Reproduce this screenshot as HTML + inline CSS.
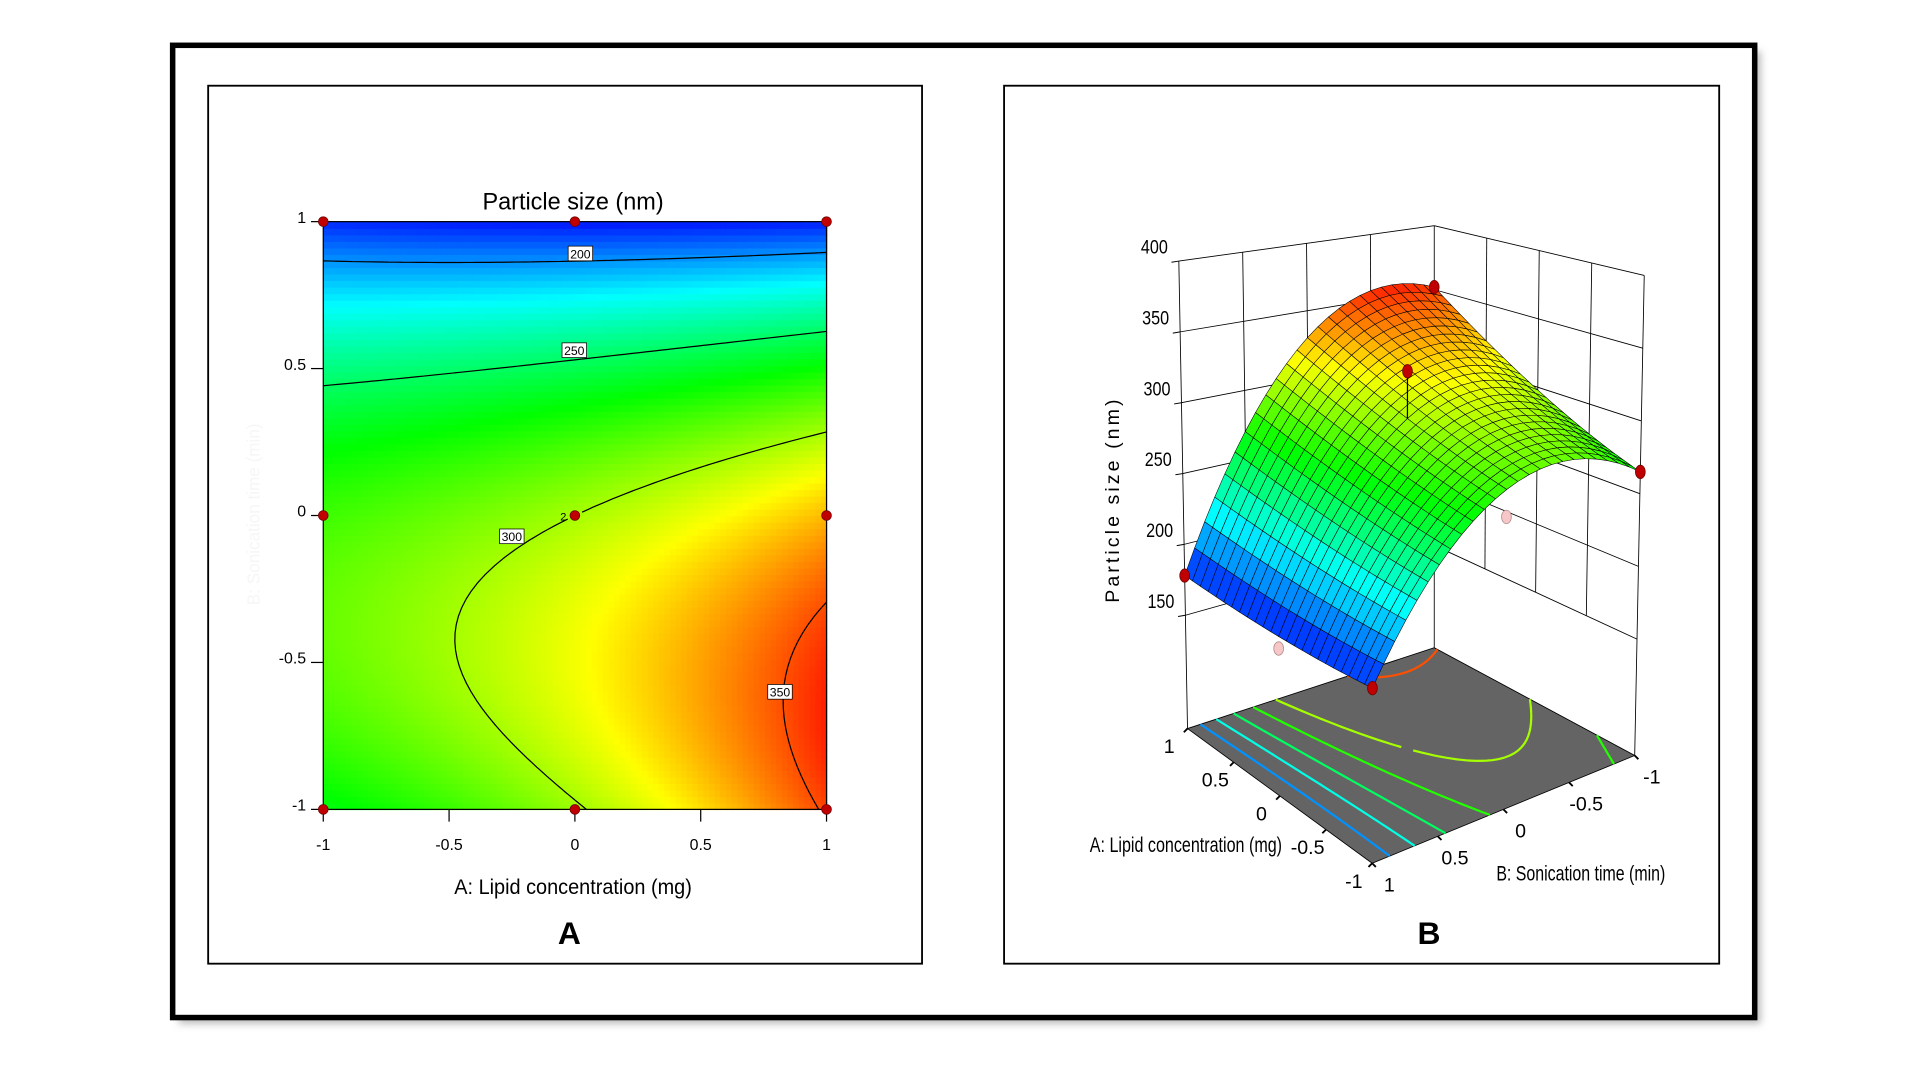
<!DOCTYPE html>
<html><head><meta charset="utf-8"><title>Particle size response surface</title>
<style>
html,body{margin:0;padding:0;background:#fff;}
svg{display:block;}
text{font-family:"Liberation Sans",sans-serif;}
</style></head>
<body>
<svg id="root" width="1920" height="1080" viewBox="0 0 1568 882" preserveAspectRatio="none" xmlns="http://www.w3.org/2000/svg">
<defs>
<filter id="sh" x="-5%" y="-5%" width="110%" height="110%"><feGaussianBlur stdDeviation="3"/></filter>
</defs>
<rect x="0" y="0" width="1568" height="882" fill="#fff"/>
<rect x="146" y="42" width="1292" height="794" fill="#bbb" filter="url(#sh)"/>
<rect x="141" y="37" width="1292" height="794" fill="#fff" stroke="#000" stroke-width="4.5"/>
<rect x="170" y="70" width="583" height="717" fill="#fff" stroke="#000" stroke-width="1.5"/>
<rect x="820" y="70" width="584" height="717" fill="#fff" stroke="#000" stroke-width="1.5"/>

<g id="pa">
<text x="468" y="171" font-size="20" text-anchor="middle" textLength="148" lengthAdjust="spacingAndGlyphs">Particle size (nm)</text>
<g id="heat"></g>
<g id="cont2d"></g>
<rect x="264" y="181" width="411" height="480" fill="none" stroke="#000" stroke-width="1"/>
<g id="ax2d"></g>
<g id="lbl2d"></g>
<g id="dots2d"></g>
<text x="468" y="730" font-size="17" text-anchor="middle" textLength="194" lengthAdjust="spacingAndGlyphs">A: Lipid concentration (mg)</text>
<text x="212" y="420" font-size="14" fill="#f6f6f6" text-anchor="middle" transform="rotate(-90 212 420)">B: Sonication time (min)</text>
<text x="465" y="771" font-size="26" font-weight="bold" text-anchor="middle">A</text>
</g>

<g id="pb">
<g id="walls"></g>
<g id="floor"></g>
<g id="surf"></g>
<g id="ax3d"></g>
<text x="914" y="408" font-size="16" letter-spacing="2.5" text-anchor="middle" transform="rotate(-90 914 408)">Particle size (nm)</text>
<text x="890" y="696" font-size="17" textLength="157" lengthAdjust="spacingAndGlyphs">A: Lipid concentration (mg)</text>
<text x="1222" y="719" font-size="17" textLength="138" lengthAdjust="spacingAndGlyphs">B: Sonication time (min)</text>
<text x="1167" y="771" font-size="26" font-weight="bold" text-anchor="middle">B</text>
</g>
</svg>
<script>
// ---- data ----
const levelsA = [-1, 0, 1];
const levelsB = [1, 0, -1];
// predicted response at design grid: rows B=1,0,-1 ; cols A=-1,0,1
const predB1 = [180, 176, 178];
const predB0 = [280, 300, 330];
const predBm1 = [265, 298, 352];
// observed values for design points (rows as above)
const obsB1 = [180, 168, 178];
const obsB0 = [262, 333, 318];
const obsBm1 = [265, 298, 352];
const contourLevels = [200, 250, 300, 350];
const floorLevels = [200, 225, 250, 275, 300, 350];
const tickVals = [-1, -0.5, 0, 0.5, 1];
const tickLabels = ["-1", "-0.5", "0", "0.5", "1"];
const zTicks = [150, 200, 250, 300, 350, 400];
const cmin = 172, cmax = 365;

const NS = "http://www.w3.org/2000/svg";
function mk(tag, attrs, parent){ const e=document.createElementNS(NS,tag); for(const k in attrs) e.setAttribute(k,attrs[k]); parent.appendChild(e); return e; }
const pred = [predB1, predB0, predBm1];
const obs = [obsB1, obsB0, obsBm1];
function L3(x,i){ if(i===0) return x*(x-1)/2; if(i===1) return 1-x*x; return x*(x+1)/2; }
function f(A,B){
  let s=0;
  for(let r=0;r<3;r++){ const bi=2-r; for(let c=0;c<3;c++){ s+=pred[r][c]*L3(A,c)*L3(B,bi);} }
  return s;
}
function cmap(v){
  let t=(v-cmin)/(cmax-cmin); t=Math.max(0,Math.min(1,t));
  let r,g,b;
  if(t<0.25){r=0;g=t/0.25*255;b=255;}
  else if(t<0.5){r=0;g=255;b=255*(1-(t-0.25)/0.25);}
  else if(t<0.75){r=255*(t-0.5)/0.25;g=255;b=0;}
  else {r=255;g=255*(1-(t-0.75)/0.25);b=0;}
  return `rgb(${r|0},${g|0},${b|0})`;
}
function contourSegs(level,n){
  const segs=[]; const h=2/n;
  for(let i=0;i<n;i++)for(let j=0;j<n;j++){
    const a0=-1+i*h,a1=a0+h,b0=-1+j*h,b1=b0+h;
    const c=[[a0,b0,f(a0,b0)],[a1,b0,f(a1,b0)],[a1,b1,f(a1,b1)],[a0,b1,f(a0,b1)]];
    const pts=[];
    for(let k=0;k<4;k++){const p=c[k],q=c[(k+1)%4];
      if((p[2]-level)*(q[2]-level)<0){const u=(level-p[2])/(q[2]-p[2]); pts.push([p[0]+u*(q[0]-p[0]),p[1]+u*(q[1]-p[1])]);}}
    if(pts.length===2) segs.push(pts);
    if(pts.length===4){segs.push([pts[0],pts[1]]);segs.push([pts[2],pts[3]]);}
  }
  return segs;
}

// ---- panel A ----
const X0=264,X1=675,Y0=661,Y1=181;
const sx=a=>X0+(a+1)/2*(X1-X0);
const sy=b=>Y0-(b+1)/2*(Y0-Y1);
const heat=document.getElementById('heat');
const N=90, cw=(X1-X0)/N, ch=(Y0-Y1)/N;
for(let i=0;i<N;i++)for(let j=0;j<N;j++){
  const A=-1+(i+0.5)*2/N, B=-1+(j+0.5)*2/N;
  const r=mk('rect',{x:(sx(-1)+i*cw).toFixed(2),y:(sy(1)+(N-1-j)*ch).toFixed(2),width:(cw+0.6).toFixed(2),height:(ch+0.6).toFixed(2),fill:cmap(f(A,B))},heat);
  
  
}
const c2=document.getElementById('cont2d');
contourLevels.forEach(lv=>{
  let d=''; contourSegs(lv,70).forEach(s=>{d+=`M${sx(s[0][0]).toFixed(2)},${sy(s[0][1]).toFixed(2)}L${sx(s[1][0]).toFixed(2)},${sy(s[1][1]).toFixed(2)}`;});
  const p=mk('path',{d:d,stroke:'#000','stroke-width':1,fill:'none'},c2);
  
  
});
const ax=document.getElementById('ax2d');
tickVals.forEach((v,k)=>{
  const tx=mk('line',{x1:sx(v),x2:sx(v),y1:Y0,y2:Y0+10,stroke:'#000','stroke-width':1},ax);
  
  
  const tl=mk('text',{x:sx(v),y:Y0+33,'font-size':13,'text-anchor':'middle'},ax); tl.textContent=tickLabels[k];
  
  
  const ty=mk('line',{x1:X0-10,x2:X0,y1:sy(v),y2:sy(v),stroke:'#000','stroke-width':1},ax);
  
  
  const yl=mk('text',{x:X0-14,y:sy(v)+1,'font-size':13,'text-anchor':'end'},ax); yl.textContent=tickLabels[k];
  
  
});
const lbls=[[474,207,'200'],[469,286,'250'],[418,438,'300'],[637,565,'350']];
const lg=document.getElementById('lbl2d');
lbls.forEach(l=>{
  const r=mk('rect',{x:l[0]-10,y:l[1]-6,width:20,height:12,fill:'#fff',stroke:'#000','stroke-width':0.6},lg);
  
  
  const t=mk('text',{x:l[0],y:l[1]+4,'font-size':10,'text-anchor':'middle'},lg); t.textContent=l[2];
  
  
});
const rep=mk('text',{x:460,y:425,'font-size':9,'text-anchor':'middle'},lg); rep.textContent='2';


const dg=document.getElementById('dots2d');
levelsA.forEach(a=>levelsB.forEach(b=>{
  const c=mk('circle',{cx:sx(a),cy:sy(b),r:4,fill:'#c00000',stroke:'#600','stroke-width':0.6},dg);
  
  
}));

// ---- panel B (3D) ----
const Z0=70;
const CL=[969.8,595,1.157,-0.0215], CF=[1120.6,705,1.30,0.002], CK=[1171.3,529,1.0446,0], CR=[1335,617,1.188,0.0236];
function proj(A,B,z){
  const s=(1-A)/2,t=(1-B)/2;
  const w=[(1-s)*(1-t),s*(1-t),(1-s)*t,s*t], C=[CL,CF,CK,CR];
  let px=0,py=0,sc=0,dx=0; for(let k=0;k<4;k++){px+=w[k]*C[k][0];py+=w[k]*C[k][1];sc+=w[k]*C[k][2];dx+=w[k]*C[k][3];}
  const h=z-Z0; return [px+h*dx,py-h*sc];
}
const P=p=>p[0].toFixed(2)+','+p[1].toFixed(2);
const walls=document.getElementById('walls');
function wl(p,q,name){const l=mk('line',{x1:p[0],y1:p[1],x2:q[0],y2:q[1],stroke:'#000','stroke-width':0.7},walls);
  
  }
zTicks.forEach(z=>{ wl(proj(1,1,z),proj(1,-1,z),'wall-gridline'); wl(proj(1,-1,z),proj(-1,-1,z),'wall-gridline'); });
[0.5,0,-0.5].forEach(v=>{ wl(proj(1,v,150),proj(1,v,400),'wall-gridline'); wl(proj(v,-1,150),proj(v,-1,400),'wall-gridline'); });
wl(proj(1,1,Z0),proj(1,1,400),'z-axis-line'); wl(proj(1,-1,Z0),proj(1,-1,400),'corner-line'); wl(proj(-1,-1,Z0),proj(-1,-1,400),'corner-line');
const fl=document.getElementById('floor');
const fp=mk('polygon',{points:[proj(1,1,Z0),proj(-1,1,Z0),proj(-1,-1,Z0),proj(1,-1,Z0)].map(P).join(' '),fill:'#646464',stroke:'#000','stroke-width':0.7},fl);


floorLevels.forEach(lv=>{
  let d=''; contourSegs(lv,50).forEach(s=>{d+='M'+P(proj(s[0][0],s[0][1],Z0))+'L'+P(proj(s[1][0],s[1][1],Z0));});
  const p=mk('path',{d:d,stroke:cmap(lv),'stroke-width':1.8,fill:'none'},fl);
  
  
});
const sg=document.getElementById('surf');
const M=24, quads=[];
for(let i=0;i<M;i++)for(let j=0;j<M;j++){
  const a0=-1+i*2/M,a1=a0+2/M,b0=-1+j*2/M,b1=b0+2/M;
  const am=(a0+a1)/2,bm=(b0+b1)/2;
  quads.push({a0,a1,b0,b1,depth:(am-bm),z:f(am,bm)});
}
function dot(a,b,v,fill,g){const p=proj(a,b,v);const c=mk('ellipse',{cx:p[0],cy:p[1],rx:4,ry:5.5,fill:fill,stroke:fill==='#c00000'?'#600':'#a88','stroke-width':0.6},g);
  
  }
levelsB.forEach((b,r)=>levelsA.forEach((a,c)=>{ if(obs[r][c]<f(a,b)-3) dot(a,b,obs[r][c],'#f7c6c6',sg); }));
quads.sort((x,y)=>y.depth-x.depth);
quads.forEach(q=>{
  const pts=[proj(q.a0,q.b0,f(q.a0,q.b0)),proj(q.a1,q.b0,f(q.a1,q.b0)),proj(q.a1,q.b1,f(q.a1,q.b1)),proj(q.a0,q.b1,f(q.a0,q.b1))];
  const pg=mk('polygon',{points:pts.map(P).join(' '),fill:cmap(q.z),stroke:'#000','stroke-width':0.45,'stroke-linejoin':'round'},sg);
  
  
});
levelsB.forEach((b,r)=>levelsA.forEach((a,c)=>{
  const v=obs[r][c], s=f(a,b);
  if(v>=s-3){
    if(v-s>5){const p1=proj(a,b,v),p2=proj(a,b,s);const l=mk('line',{x1:p1[0],y1:p1[1],x2:p2[0],y2:p2[1],stroke:'#000','stroke-width':1},sg);
      
      }
    if(!(a===0&&b===-1)) dot(a,b,v,'#c00000',sg);
  }
}));
const a3=document.getElementById('ax3d');
zTicks.forEach(z=>{const p=proj(1,1,z);
  const t=mk('line',{x1:p[0]-6,y1:p[1]+1,x2:p[0],y2:p[1],stroke:'#000','stroke-width':0.8},a3);
  
  
  const l=mk('text',{x:p[0]-9,y:p[1]-6,'font-size':16,'text-anchor':'end',textLength:22,lengthAdjust:'spacingAndGlyphs'},a3); l.textContent=String(z);
  
  
});
tickVals.forEach((v,k)=>{
  const pa=proj(v,1,Z0);
  const ta=mk('line',{x1:pa[0],y1:pa[1],x2:pa[0]-3,y2:pa[1]+3,stroke:'#000','stroke-width':1.5},a3);
  
  
  const la=mk('text',{x:pa[0]-15,y:pa[1]+20,'font-size':16,'text-anchor':'middle'},a3); la.textContent=tickLabels[k];
  
  
  const pb=proj(-1,v,Z0);
  const tb=mk('line',{x1:pb[0],y1:pb[1],x2:pb[0]+3,y2:pb[1]+3,stroke:'#000','stroke-width':1.5},a3);
  
  
  const lb=mk('text',{x:pb[0]+14,y:pb[1]+23,'font-size':16,'text-anchor':'middle'},a3); lb.textContent=tickLabels[k];
  
  
});
</script>
</body></html>
